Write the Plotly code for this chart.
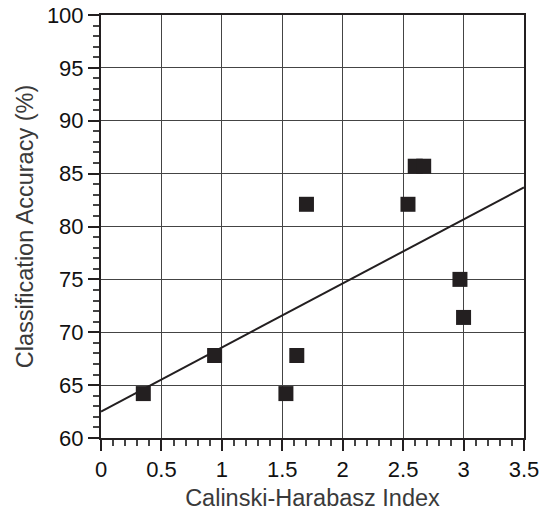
import plotly.graph_objects as go

ch_index = [0.35, 0.94, 1.53, 1.62, 1.70, 2.54, 2.60, 2.67, 2.97, 3.00]
accuracy = [64.2, 67.8, 64.2, 67.8, 82.1, 82.1, 85.7, 85.7, 75.0, 71.4]
fit_x = [0.0, 3.5]
fit_y = [62.5, 83.7]

fig = go.Figure()
fig.add_trace(go.Scatter(x=fit_x, y=fit_y, mode="lines",
                         line=dict(color="#231f20", width=2), showlegend=False))
fig.add_trace(go.Scatter(x=ch_index, y=accuracy, mode="markers",
                         marker=dict(symbol="square", size=15, color="#231f20",
                                     line=dict(width=0)), showlegend=False))

font = "Liberation Sans, Arial, sans-serif"
fig.update_layout(
    width=541, height=511,
    margin=dict(l=101, r=17, t=15, b=73),
    plot_bgcolor="white", paper_bgcolor="white",
    font=dict(family=font, size=22, color="#111"),
)
axis_common = dict(
    showline=True, linecolor="#231f20", linewidth=2, mirror=True,
    showgrid=True, gridcolor="#444", gridwidth=1,
    ticks="outside", ticklen=11, tickwidth=1.5, tickcolor="#231f20",
    zeroline=False, automargin=False,
    tickfont=dict(size=22, color="#111", family=font),
)
fig.update_xaxes(range=[0, 3.5], dtick=0.5, tick0=0,
                 title=dict(text="Calinski-Harabasz Index", standoff=12,
                            font=dict(size=23.5, color="#3a3a3a", family=font)),
                 minor=dict(dtick=0.1, ticks="outside", ticklen=6, tickcolor="#444", showgrid=False),
                 **axis_common)
fig.update_yaxes(range=[60, 100], dtick=5, tick0=60,
                 title=dict(text="Classification Accuracy (%)", standoff=7,
                            font=dict(size=23.5, color="#3a3a3a", family=font)),
                 minor=dict(dtick=1, ticks="outside", ticklen=6, tickcolor="#444", showgrid=False),
                 **axis_common)

fig.write_html("out.html")
